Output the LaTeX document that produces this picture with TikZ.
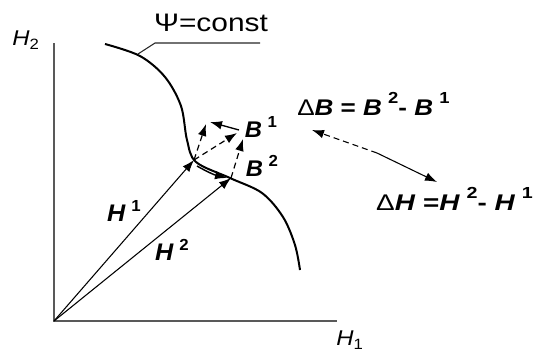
\documentclass[tikz,border=0pt]{standalone}
\usepackage{graphicx}
\usepackage{fontspec}
\setmainfont{Liberation Sans}
\usetikzlibrary{arrows.meta}
\newcommand{\bv}[1]{\textbf{\textit{#1}}}
\newcommand{\sps}[1]{\raisebox{0.5em}{\bfseries\fontsize{12}{12}\selectfont #1}}
\newcommand{\hstretch}[2]{\scalebox{#1}[1]{#2}}
\begin{document}
\begin{tikzpicture}[x=0.75pt,y=-0.75pt,
  axis/.style={draw=black!65,line width=1.1pt},
  curveln/.style={draw=black,line width=1.5pt},
  vec/.style={draw=black,line width=0.8pt,-{Latex[length=9pt,width=6.5pt]}},
  dvec/.style={draw=black,line width=0.9pt,dash pattern=on 4.5pt off 3pt,-{Latex[length=9pt,width=6.5pt]}},
  lbl/.style={inner sep=0pt,font=\fontsize{16}{18}\selectfont},
]
\useasboundingbox (0,0) rectangle (536,351);
% axes
\coordinate (O) at (54,321);
\coordinate (Ytop) at (54,43);
\coordinate (Xend) at (337,321);
\draw[axis] (Ytop) -- (O) -- (Xend);
\node[lbl] (h2ax) at (26,40) {\hstretch{1.12}{\textit{H}\textsubscript{2}}};
\node[lbl] (h1ax) at (350,340) {\hstretch{1.12}{\textit{H}\textsubscript{1}}};
% curve
\draw[curveln] plot[smooth,tension=0.55] coordinates {(105,44) (140,56) (165,77) (181,106) (187,140) (196,162) (230,178) (262,193) (283,217) (295,245) (300,270)};
% leader for Psi=const
\coordinate (tan1) at (138,54);
\coordinate (tan2) at (155,43);
\coordinate (tan3) at (260,43);
\draw[black!85,line width=0.8pt] (tan1) -- (tan2) -- (tan3);
\node[lbl,font=\fontsize{19}{21}\selectfont] (psi) at (211,23) {\hstretch{1.18}{Ψ=const}};
% vectors H
\coordinate (H1tip) at (194,160);
\coordinate (H2tip) at (231,178);
\draw[vec] (O) -- (H1tip);
\draw[vec] (O) -- (H2tip);
% Delta H along curve
\coordinate (dh1) at (197,166);
\coordinate (dh2) at (227,178);
\draw[vec,line width=1.1pt] (dh1) to[bend right=8] (dh2);
% B vectors
\coordinate (P1) at (206,124);
\coordinate (P2) at (237,133);
\coordinate (P3) at (243,139);
\coordinate (P4) at (239,130);
\coordinate (P5) at (210,122);
\draw[dvec] (H1tip) -- (P1);
\draw[dvec] (H1tip) -- (P2);
\draw[dvec] (H2tip) -- (P3);
\draw[vec,line width=1pt] (P4) -- (P5);
% labels B
\node[lbl,font=\fontsize{17}{19}\selectfont] (b1) at (261,127) {\hstretch{1.05}{\bv{B}\hspace{4pt}\raisebox{0.45em}{\bfseries\fontsize{12}{12}\selectfont 1}}};
\node[lbl,font=\fontsize{17}{19}\selectfont] (b2) at (262,166) {\hstretch{1.05}{\bv{B}\hspace{4pt}\raisebox{0.45em}{\bfseries\fontsize{12}{12}\selectfont 2}}};
% labels H
\node[lbl,font=\fontsize{18}{20}\selectfont] (h1) at (124,211) {\hstretch{1.05}{\bv{H}\hspace{4pt}\raisebox{0.45em}{\bfseries\fontsize{12}{12}\selectfont 1}}};
\node[lbl,font=\fontsize{18}{20}\selectfont] (h2) at (172,250) {\hstretch{1.05}{\bv{H}\hspace{4pt}\raisebox{0.45em}{\bfseries\fontsize{12}{12}\selectfont 2}}};
% equations
\node[lbl,anchor=west,font=\fontsize{17}{19}\selectfont] (dB) at (297,104) {\hstretch{1.15}{Δ\bv{B} \textbf{=} \bv{B}\hspace{4pt}\sps{2}\textbf{-} \bv{B}\hspace{4pt}\sps{1}}};
\node[lbl,anchor=east,font=\fontsize{17}{19}\selectfont] (dH) at (533,199) {\hstretch{1.23}{Δ\bv{H} \textbf{=}\bv{H}\hspace{4pt}\sps{2}\textbf{-} \bv{H}\hspace{4pt}\sps{1}}};
% link arrow
\coordinate (la) at (312,130);
\coordinate (lm) at (377,153);
\coordinate (lb) at (437,182);
\draw[dvec,line width=0.8pt] (lm) -- (la);
\draw[vec] (lm) -- (lb);
\end{tikzpicture}
\end{document}
